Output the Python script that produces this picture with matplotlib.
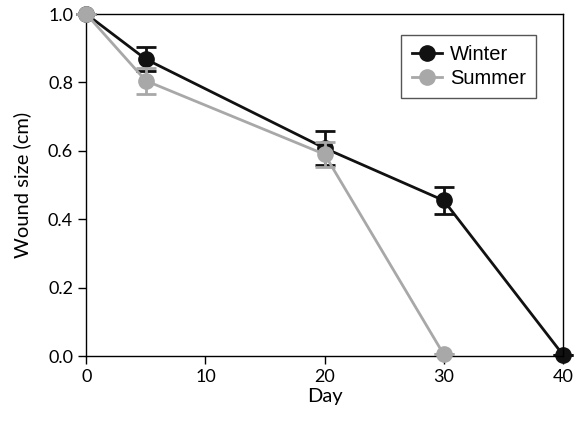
import matplotlib.pyplot as plt
from matplotlib.lines import Line2D

# Data
days_winter = [0, 5, 20, 30, 40]
size_winter = [1.0, 0.868, 0.608, 0.455, 0.004]
err_winter = [0.0, 0.035, 0.05, 0.04, 0.0]

days_summer = [0, 5, 20, 30]
size_summer = [1.0, 0.805, 0.590, 0.005]
err_summer = [0.0, 0.038, 0.037, 0.0]

xticks = [0, 10, 20, 30, 40]
yticks = [0.0, 0.2, 0.4, 0.6, 0.8, 1.0]

plt.rcParams['font.family'] = ['Lato', 'DejaVu Sans']

fig = plt.figure(figsize=(5.75, 4.25), dpi=100)
ax = fig.add_axes([0.150, 0.162, 0.829, 0.805])

ax.errorbar(days_winter, size_winter, yerr=err_winter, color='#111111', marker='o',
            markersize=11, lw=2, capsize=7, capthick=2, elinewidth=2,
            clip_on=False, zorder=2)
ax.errorbar(days_summer, size_summer, yerr=err_summer, color='#a8a8a8', marker='o',
            markersize=11, lw=2, capsize=7, capthick=2, elinewidth=2,
            clip_on=False, zorder=3)

ax.set_xlim(0, 40)
ax.set_ylim(0, 1.0)
ax.set_xticks(xticks)
ax.set_yticks(yticks)
ax.set_yticklabels([f'{v:.1f}' for v in yticks])
ax.tick_params(direction='out', length=6, width=1, labelsize=13, top=False, right=False)
for s in ax.spines.values():
    s.set_linewidth(1)
ax.set_xlabel('Day', fontsize=14.5, labelpad=2)
ax.set_ylabel('Wound size (cm)', fontsize=14.5, labelpad=12)

handles = [Line2D([], [], color='#111111', marker='o', markersize=11, lw=2),
           Line2D([], [], color='#a8a8a8', marker='o', markersize=11, lw=2)]
leg = ax.legend(handles, ['Winter', 'Summer'], loc='upper right',
                bbox_to_anchor=(0.932, 0.918), bbox_transform=fig.transFigure,
                fancybox=False, edgecolor='#555555', framealpha=1,
                prop={'family': 'Liberation Sans', 'size': 14.5},
                handlelength=1.5, handletextpad=0.4, borderpad=0.5, borderaxespad=0,
                labelspacing=0.25)
leg.get_frame().set_linewidth(1)

fig.savefig('out.png', dpi=100)
